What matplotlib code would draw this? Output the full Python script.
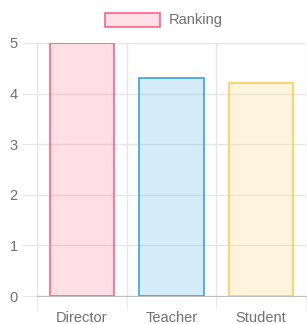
import matplotlib
matplotlib.use("Agg")
import matplotlib.pyplot as plt
from matplotlib.patches import Patch
import numpy as np

categories = ["Director", "Teacher", "Student"]
values = [5.0, 4.3, 4.2]
series_name = "Ranking"

fills = [(1, 99/255, 132/255, 0.2), (54/255, 162/255, 235/255, 0.2), (1, 206/255, 86/255, 0.2)]
edges = [(1, 99/255, 132/255), (54/255, 162/255, 235/255), (1, 206/255, 86/255)]

plt.rcParams['font.family'] = ['Liberation Sans', 'DejaVu Sans']
fig = plt.figure(figsize=(3.07, 3.24), dpi=100)
ax = fig.add_axes([37/307, 28/324, 269/307, 253/324])

x = np.arange(len(categories))
ax.bar(x, values, width=0.72, color=fills, edgecolor=edges, linewidth=1.2, zorder=3)

ax.set_xlim(-0.5, len(categories) - 0.5)
ax.set_ylim(0, 5)
ax.set_yticks(range(0, 6))
ax.set_xticks(x)
ax.set_xticklabels(categories)
ax.set_xticks(np.arange(-0.5, len(categories), 1.0), minor=True)

grid_c = '#e6e6e6'
ax.grid(axis='y', color=grid_c, linewidth=1, zorder=0)
ax.grid(axis='x', which='minor', color=grid_c, linewidth=1, zorder=0)
ax.tick_params(axis='y', length=11, color=grid_c, labelcolor='#707070', labelsize=10.5, pad=3)
ax.tick_params(axis='x', which='major', length=0, labelcolor='#707070', labelsize=10.5, pad=11)
ax.tick_params(axis='x', which='minor', length=10, color=grid_c)
for s in ['top', 'right']:
    ax.spines[s].set_visible(False)
ax.spines['left'].set_color(grid_c)
ax.spines['bottom'].set_color('#bfbfbf')

handle = Patch(facecolor=fills[0], edgecolor=edges[0], linewidth=1.2)
fig.legend([handle], [series_name], loc='center', bbox_to_anchor=(164/307, 1 - 20/324),
           frameon=False, fontsize=10.5, labelcolor='#707070', handlelength=3.8, handleheight=1.1,
           handletextpad=0.6)

fig.savefig("out.png", dpi=100)
